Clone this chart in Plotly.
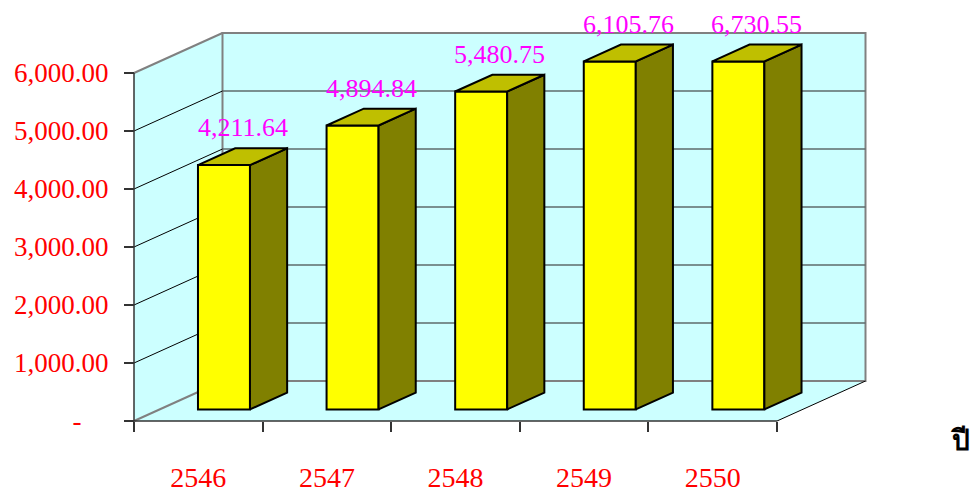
import plotly.graph_objects as go

# ---- data ----
years = ["2546", "2547", "2548", "2549", "2550"]
values = [4211.64, 4894.84, 5480.75, 6105.76, 6730.55]
y_tickvals = [0, 1000, 2000, 3000, 4000, 5000, 6000]
y_ticktext = ["-" + "\u00a0" * 4, "1,000.00", "2,000.00", "3,000.00", "4,000.00", "5,000.00", "6,000.00"]
x_title = "ปี"

# ---- geometry (axis units) ----
YMAX = 6000
W, H = 975, 494
PX_PER_CAT = 128.6
PX_PER_VAL = 0.058
X0_PX, Y0_PX = 134, 421
DX = 88.5 / PX_PER_CAT      # depth offset in category units
DY = 40 / PX_PER_VAL        # depth offset in value units
D0, D1 = 0.29, 0.71         # bar front/back depth fractions
BW = 52 / PX_PER_CAT        # bar width

xr = [-0.5 - X0_PX / PX_PER_CAT, -0.5 + (W - X0_PX) / PX_PER_CAT]
yr = [-(H - Y0_PX) / PX_PER_VAL, Y0_PX / PX_PER_VAL]

CYAN = "#CCFFFF"
GRAY = "#808080"
SERIF = "Liberation Serif, Times New Roman, serif"

n = len(years)
heights = [min(v, YMAX) for v in values]
xl_end = n - 0.5

fig = go.Figure()

def poly(xs, ys):
    return "M " + " L ".join(f"{x},{y}" for x, y in zip(xs, ys)) + " Z"

shapes = []
# floor
shapes.append(dict(type="path", xref="x", yref="y", layer="below",
                   path=poly([-0.5, xl_end, xl_end + DX, -0.5 + DX], [0, 0, DY, DY]),
                   fillcolor=CYAN, line=dict(width=0)))
# left wall
shapes.append(dict(type="path", xref="x", yref="y", layer="below",
                   path=poly([-0.5, -0.5 + DX, -0.5 + DX, -0.5], [0, DY, YMAX + DY, YMAX]),
                   fillcolor=CYAN, line=dict(width=0)))
# back wall
shapes.append(dict(type="path", xref="x", yref="y", layer="below",
                   path=poly([-0.5 + DX, xl_end + DX, xl_end + DX, -0.5 + DX], [DY, DY, YMAX + DY, YMAX + DY]),
                   fillcolor=CYAN, line=dict(width=2, color=GRAY)))
# gridlines
for v in y_tickvals[1:-1]:
    shapes.append(dict(type="line", xref="x", yref="y", layer="below",
                       x0=-0.5 + DX, x1=xl_end + DX, y0=v + DY, y1=v + DY,
                       line=dict(width=1.5, color="#5E6B6B")))
    shapes.append(dict(type="line", xref="x", yref="y", layer="below",
                       x0=-0.5, x1=-0.5 + DX, y0=v, y1=v + DY,
                       line=dict(width=1, color="black")))
# left wall edges
shapes.append(dict(type="line", xref="x", yref="y", layer="below",
                   x0=-0.5, x1=-0.5 + DX, y0=YMAX, y1=YMAX + DY, line=dict(width=2, color=GRAY)))
shapes.append(dict(type="line", xref="x", yref="y", layer="below",
                   x0=-0.5, x1=-0.5 + DX, y0=0, y1=DY, line=dict(width=2, color=GRAY)))
# floor right edge
shapes.append(dict(type="line", xref="x", yref="y", layer="below",
                   x0=xl_end, x1=xl_end + DX, y0=0, y1=DY, line=dict(width=1, color="black")))
# axis lines
shapes.append(dict(type="line", xref="x", yref="y", layer="below",
                   x0=-0.5, x1=-0.5, y0=0, y1=YMAX, line=dict(width=1.5, color="#333333")))
shapes.append(dict(type="line", xref="x", yref="y", layer="below",
                   x0=-0.5, x1=xl_end, y0=0, y1=0, line=dict(width=1.5, color="#333333")))

# front faces of the bars
xf = [i + D0 * DX for i in range(n)]
fig.add_trace(go.Bar(x=xf, y=heights, base=D0 * DY, width=BW,
                     marker=dict(color="#FFFF00", line=dict(color="black", width=2)),
                     hoverinfo="skip", showlegend=False))

ddx = (D1 - D0) * DX
ddy = (D1 - D0) * DY
side_x, side_y, top_x, top_y = [], [], [], []
for i in range(n):
    l = xf[i] - BW / 2
    r = xf[i] + BW / 2
    b = D0 * DY
    t = b + heights[i]
    side_x += [r, r + ddx, r + ddx, r, r, None]
    side_y += [b, b + ddy, t + ddy, t, b, None]
    top_x += [l, r, r + ddx, l + ddx, l, None]
    top_y += [t, t, t + ddy, t + ddy, t, None]

fig.add_trace(go.Scatter(x=side_x, y=side_y, mode="lines", fill="toself",
                         fillcolor="#808000", line=dict(color="black", width=2),
                         hoverinfo="skip", showlegend=False))
fig.add_trace(go.Scatter(x=top_x, y=top_y, mode="lines", fill="toself",
                         fillcolor="#BFBF00", line=dict(color="black", width=2),
                         hoverinfo="skip", showlegend=False))

annotations = []
for i in range(n):
    annotations.append(dict(x=i + 0.5 * DX, y=heights[i] + 0.5 * DY, xref="x", yref="y",
                            text=f"{values[i]:,.2f}", showarrow=False, yshift=29,
                            font=dict(family=SERIF, size=26, color="#FF00FF")))
annotations.append(dict(x=960 / W, y=1 - 440 / H, xref="paper", yref="paper",
                        xanchor="center", yanchor="middle",
                        text=f"<b>{x_title}</b>", showarrow=False,
                        font=dict(family=SERIF, size=28, color="black")))

fig.update_layout(
    width=W, height=H,
    margin=dict(l=0, r=0, t=0, b=0),
    paper_bgcolor="white", plot_bgcolor="white",
    showlegend=False,
    shapes=shapes, annotations=annotations,
    xaxis=dict(range=xr, anchor="free", position=(H - Y0_PX) / H,
               tickvals=list(range(n)), ticktext=years, ticks="",
               tickfont=dict(family=SERIF, size=28, color="#FF0000"),
               ticklabelstandoff=37,
               minor=dict(tickmode="array", tickvals=[i - 0.5 for i in range(n + 1)],
                          ticks="outside", ticklen=10,
                          tickcolor="#333333", tickwidth=1.5),
               showgrid=False, zeroline=False, showline=False, fixedrange=True),
    yaxis=dict(range=yr, anchor="free", position=X0_PX / W,
               tickvals=y_tickvals, ticktext=y_ticktext,
               ticks="outside", ticklen=10, tickcolor="#333333", tickwidth=1.5,
               tickfont=dict(family=SERIF, size=27, color="#FF0000"),
               ticklabelstandoff=10,
               showgrid=False, zeroline=False, showline=False, fixedrange=True),
)

fig.write_html("out.html", config={"displayModeBar": False},
               post_script="document.body.style.margin='0';document.body.style.overflow='hidden';")
